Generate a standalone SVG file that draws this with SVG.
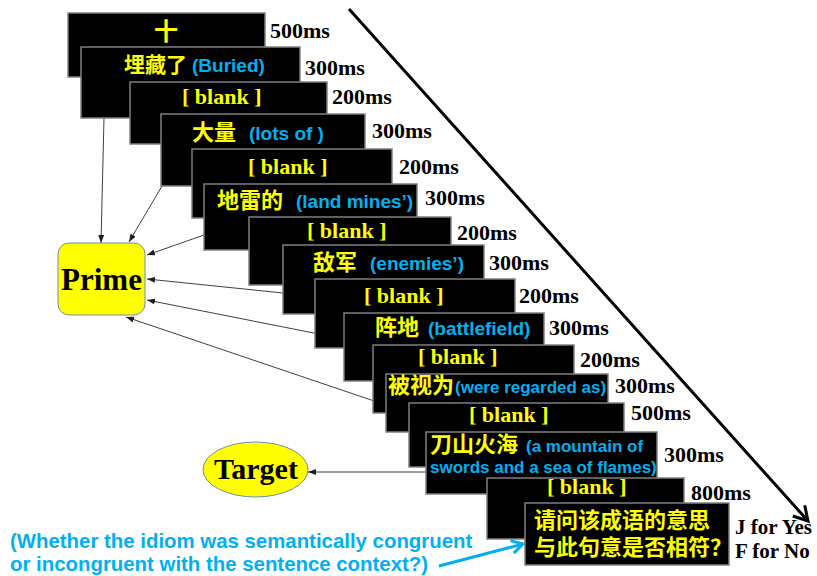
<svg xmlns="http://www.w3.org/2000/svg" width="817" height="576" viewBox="0 0 817 576">
<style>
.box{fill:#000;stroke:#7f7f7f;stroke-width:1.5}
.cn{font-family:"Noto Sans CJK SC","Noto Sans CJK JP",sans-serif;font-weight:bold;fill:#ffff00;font-size:22px}
.en{font-family:"Liberation Sans",Arial,sans-serif;font-weight:bold;fill:#00b0f0;font-size:19px}
.blank{font-family:"Liberation Serif","Times New Roman",serif;font-weight:bold;fill:#ffff00;font-size:22px}
.ms{font-family:"Liberation Serif","Times New Roman",serif;font-weight:bold;fill:#000;font-size:22px}
.big{font-family:"Liberation Serif","Times New Roman",serif;font-weight:bold;fill:#000;font-size:31px;text-anchor:middle}
.conn{stroke:#404040;stroke-width:1;fill:none;marker-end:url(#ah)}
.note{font-family:"Liberation Sans",Arial,sans-serif;font-weight:bold;fill:#00b0f0;font-size:20.4px}
</style>
<defs>
<marker id="ah" viewBox="0 0 8 6" refX="8" refY="3" markerWidth="8" markerHeight="6" markerUnits="userSpaceOnUse" orient="auto">
<path d="M0,0 L8,3 L0,6 Z" fill="#202020"/>
</marker>
</defs>
<g id="connectors">
<path class="conn" d="M104,118 L101,243"/>
<path class="conn" d="M162,186 L129,242"/>
<path class="conn" d="M204,235 L147,255"/>
<path class="conn" d="M283,293 L147,279"/>
<path class="conn" d="M344,339 L147,300"/>
<path class="conn" d="M386,405 L126,317"/>
<path class="conn" d="M426,472 L308,472"/>
<path d="M349,9 L808,521 M792.8,516 L808,521 L804.7,505.3" stroke="#000" stroke-width="3" fill="none" stroke-linejoin="miter"/>
<path d="M439,566 L523,544 M510.5,540.6 L523,544 L513.8,553.1" stroke="#00b0f0" stroke-width="3" fill="none"/>
</g>
<g id="prime">
<rect x="58" y="243" width="87" height="72" rx="11" fill="#ffff00" stroke="#6f8fae" stroke-width="1"/>
<text class="big" x="101.5" y="290">Prime</text>
</g>
<g id="target">
<ellipse cx="255.5" cy="469.5" rx="52.5" ry="27.5" fill="#ffff00" stroke="#6f8fae" stroke-width="1"/>
<text class="big" x="256" y="479" style="font-size:30px">Target</text>
</g>
<g id="s1"><rect class="box" x="68" y="13" width="197" height="64"/><text class="cn" x="166" y="40" style="font-size:24px" text-anchor="middle">十</text><text class="ms" x="270" y="38">500ms</text></g>
<g id="s2"><rect class="box" x="81" y="47" width="219" height="71"/><text class="cn" x="124" y="72" style="font-size:21px">埋藏了</text><text class="en" x="192" y="72">(Buried)</text><text class="ms" x="305" y="75">300ms</text></g>
<g id="s3"><rect class="box" x="130" y="82" width="197" height="62"/><text class="blank" x="182" y="104">[ blank ]</text><text class="ms" x="332" y="104">200ms</text></g>
<g id="s4"><rect class="box" x="161" y="114" width="204" height="72"/><text class="cn" x="192" y="140">大量</text><text class="en" x="249" y="140">(lots of )</text><text class="ms" x="372" y="138">300ms</text></g>
<g id="s5"><rect class="box" x="192" y="149" width="200" height="69"/><text class="blank" x="248" y="174">[ blank ]</text><text class="ms" x="399" y="174">200ms</text></g>
<g id="s6"><rect class="box" x="204" y="184" width="213" height="66"/><text class="cn" x="217" y="208">地雷的</text><text class="en" x="296" y="208">(land mines’)</text><text class="ms" x="425" y="205">300ms</text></g>
<g id="s7"><rect class="box" x="249" y="217" width="202" height="68"/><text class="blank" x="307" y="238">[ blank ]</text><text class="ms" x="457" y="240">200ms</text></g>
<g id="s8"><rect class="box" x="283" y="245" width="201" height="69"/><text class="cn" x="313" y="270">敌军</text><text class="en" x="370" y="270">(enemies’)</text><text class="ms" x="489" y="270">300ms</text></g>
<g id="s9"><rect class="box" x="315" y="279" width="200" height="69"/><text class="blank" x="364" y="303">[ blank ]</text><text class="ms" x="519" y="303">200ms</text></g>
<g id="s10"><rect class="box" x="344" y="313" width="200" height="68"/><text class="cn" x="375" y="335">阵地</text><text class="en" x="428" y="335">(battlefield)</text><text class="ms" x="549" y="335">300ms</text></g>
<g id="s11"><rect class="box" x="373" y="345" width="201" height="68"/><text class="blank" x="418" y="364">[ blank ]</text><text class="ms" x="580" y="367">200ms</text></g>
<g id="s12"><rect class="box" x="386" y="374" width="222" height="58"/><text class="cn" x="388" y="393">被视为</text><text class="en" x="455" y="393" style="font-size:17px">(were regarded as)</text><text class="ms" x="615" y="393">300ms</text></g>
<g id="s13"><rect class="box" x="409" y="403" width="215" height="64"/><text class="blank" x="469" y="422">[ blank ]</text><text class="ms" x="631" y="420">500ms</text></g>
<g id="s14"><rect class="box" x="426" y="432" width="231" height="62"/><text class="cn" x="430" y="452">刀山火海</text><text class="en" x="526" y="452" style="font-size:17px">(a mountain of</text><text class="en" x="430" y="473" style="font-size:17px">swords and a sea of flames)</text><text class="ms" x="664" y="462">300ms</text></g>
<g id="s15"><rect class="box" x="487" y="478" width="197" height="61"/><text class="blank" x="547" y="494">[ blank ]</text><text class="ms" x="691" y="500">800ms</text></g>
<g id="s16"><rect class="box" x="525" y="503" width="204" height="62"/><text class="cn" x="534" y="528">请问该成语的意思</text><text class="cn" x="534" y="555">与此句意是否相符？</text><text class="ms" x="735" y="534" style="font-size:21px">J for Yes</text><text class="ms" x="735" y="558" style="font-size:21px">F for No</text></g>
<g id="note"><text class="note" x="10" y="548">(Whether the idiom was semantically congruent</text><text class="note" x="10" y="571">or incongruent with the sentence context?)</text></g>
</svg>
